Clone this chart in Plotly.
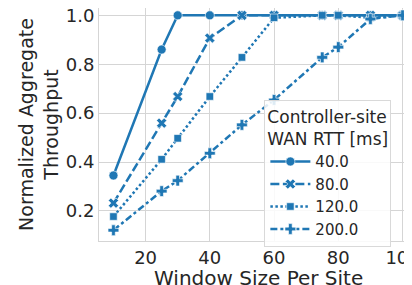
import plotly.graph_objects as go

window_size = [10, 25, 30, 40, 50, 60, 75, 80, 90, 100]
rtt_labels = ["40.0", "80.0", "120.0", "200.0"]
thr_40 = [0.345, 0.86, 1.0, 1.0, 1.0, 1.0, 1.0, 1.0, 1.0, 1.0]
thr_80 = [0.232, 0.559, 0.668, 0.907, 1.0, 1.0, 1.0, 1.0, 1.0, 1.0]
thr_120 = [0.177, 0.411, 0.497, 0.668, 0.828, 0.99, 1.0, 1.0, 0.99, 1.0]
thr_200 = [0.121, 0.281, 0.324, 0.436, 0.552, 0.654, 0.828, 0.87, 0.985, 1.0]
x_title = "Window Size Per Site"
y_title = "Normalized Aggregate<br>Throughput"
legend_title = "Controller-site<br>WAN RTT [ms]"

series = [thr_40, thr_80, thr_120, thr_200]
symbols = ["circle", "x", "square", "cross"]
sizes = [9, 9, 7.5, 9]
dashes = ["solid", "9px,3.5px", "2.5px,2.5px", "7px,3px,3px,3px"]
color = "#1f77b4"
text_color = "#262626"
grid_color = "#d5d5d5"

fig = go.Figure()
for lab, ys, sym, sz, dsh in zip(rtt_labels, series, symbols, sizes, dashes):
    fig.add_trace(go.Scatter(
        x=window_size, y=ys, name=lab, mode="lines+markers",
        line=dict(color=color, width=2.5, dash=dsh),
        marker=dict(symbol=sym, size=sz, color=color,
                    line=dict(color="white", width=0.6)),
    ))

font_family = "DejaVu Sans"
fig.update_layout(
    width=412, height=285,
    margin=dict(l=91, r=3, t=0, b=52),
    paper_bgcolor="white", plot_bgcolor="white",
    font=dict(family=font_family, color=text_color, size=18),
    showlegend=True,
    legend=dict(
        title=dict(text=legend_title, font=dict(size=17, color=text_color)),
        font=dict(size=15, color=text_color),
        x=0.52, y=0.605, xanchor="left", yanchor="top",
        bgcolor="rgba(255,255,255,0.85)",
        bordercolor="#d9d9d9", borderwidth=1,
        tracegroupgap=0, itemwidth=40,
    ),
    xaxis=dict(
        range=[5.5, 104.5],
        tickvals=[20, 40, 60, 80, 100],
        showgrid=True, gridcolor=grid_color, gridwidth=1,
        zeroline=False,
        showline=True, linecolor=grid_color, mirror=True,
        ticks="", tickfont=dict(size=18, color=text_color),
        ticklabeloverflow="allow",
        automargin=False,
    ),
    yaxis=dict(
        range=[0.077, 1.030],
        tickvals=[0.2, 0.4, 0.6, 0.8, 1.0],
        ticktext=["0.2", "0.4", "0.6", "0.8", "1.0"],
        showgrid=True, gridcolor=grid_color, gridwidth=1,
        zeroline=False,
        showline=True, linecolor=grid_color, mirror=True,
        ticks="", tickfont=dict(size=18, color=text_color),
        ticklabeloverflow="allow",
        title=dict(text=y_title, font=dict(size=19, color=text_color), standoff=2),
        automargin=False,
    ),
    annotations=[dict(
        text=x_title, xref="paper", yref="paper", x=0.5, y=0,
        xanchor="center", yanchor="middle", yshift=-37, showarrow=False,
        font=dict(size=20, color=text_color, family=font_family),
    )],
)

fig.write_html("out.html")
